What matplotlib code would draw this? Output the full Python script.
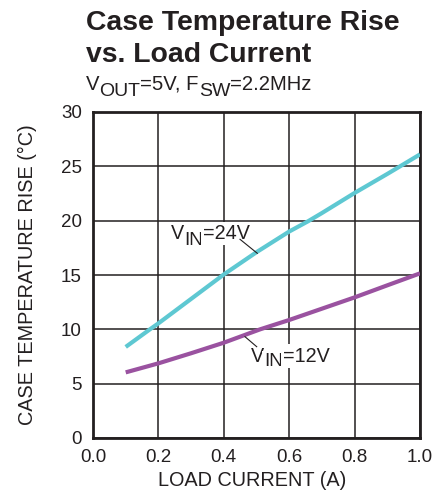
import matplotlib
matplotlib.use('Agg')
import matplotlib.pyplot as plt

# Load current (A) and case temperature rise (°C)
current_24v = [0.1, 0.174, 0.2, 0.3, 0.4, 0.5, 0.6, 0.658, 0.7, 0.8, 0.9, 0.939, 1.0]
rise_24v = [8.38, 10.0, 10.55, 12.8, 15.05, 17.1, 19.0, 19.95, 20.7, 22.55, 24.3, 25.0, 26.1]
current_12v = [0.1, 0.2, 0.3, 0.4, 0.511, 0.6, 0.7, 0.8, 0.9, 1.0]
rise_12v = [6.04, 6.87, 7.8, 8.77, 10.0, 10.86, 11.9, 12.94, 14.05, 15.15]

x_ticks = [0.0, 0.2, 0.4, 0.6, 0.8, 1.0]
y_ticks = [0, 5, 10, 15, 20, 25, 30]

INK = '#231f20'
plt.rcParams['font.family'] = ['Liberation Sans', 'DejaVu Sans']

W, H = 447, 500
fig = plt.figure(figsize=(W / 100, H / 100), dpi=100)
ax = fig.add_axes([93 / W, 1 - 438 / H, (420 - 93) / W, (438 - 112) / H])
renderer = fig.canvas.get_renderer()


def fx(px):
    return px / W


def fy(py):
    return 1 - py / H


def sub_text(x, y, parts, size, sub_size, drop, box=False):
    # parts: (string, is_subscript); x, y in pixels from top-left, y is the baseline
    for s, is_sub in parts:
        kw = dict(fontsize=sub_size if is_sub else size, color=INK,
                  va='baseline', ha='left', zorder=5)
        if box:
            kw['bbox'] = dict(facecolor='white', edgecolor='none', pad=1.5)
        t = fig.text(fx(x), fy(y + (drop if is_sub else 0)), s, **kw)
        bb = t.get_window_extent(renderer)
        x += bb.width


ax.plot(current_24v, rise_24v, color='#5ec8d2', lw=3, solid_capstyle='butt', zorder=3)
ax.plot(current_12v, rise_12v, color='#9a52a0', lw=3, solid_capstyle='butt', zorder=3)

ax.set_xlim(0, 1.0)
ax.set_ylim(0, 30)
ax.set_xticks(x_ticks)
ax.set_yticks(y_ticks)
ax.set_xticklabels([f'{v:.1f}' for v in x_ticks])
ax.tick_params(length=0, labelsize=13.5, colors=INK, pad=8)
ax.grid(True, color=INK, lw=1.1)
ax.set_axisbelow(True)
for s in ax.spines.values():
    s.set_linewidth(2)
    s.set_color(INK)

fig.text(fx(252), fy(486), 'LOAD CURRENT (A)', fontsize=14.3, color=INK,
         ha='center', va='baseline')
fig.text(fx(27), fy(275), 'CASE TEMPERATURE RISE (°C)', fontsize=14.3, color=INK,
         ha='center', va='center', rotation=90)

# curve labels with leader lines
sub_text(171, 239, [('V', False), ('IN', True), ('=24V', False)], 14.2, 13.7, 6, box=True)
fig.add_artist(plt.Line2D([fx(240), fx(257.3)], [fy(239.3), fy(253.3)], color=INK, lw=0.8, zorder=6))
sub_text(251, 361.5, [('V', False), ('IN', True), ('=12V', False)], 14.2, 13.7, 5, box=True)
fig.add_artist(plt.Line2D([fx(245), fx(256.7)], [fy(336.7), fy(346.7)], color=INK, lw=0.8, zorder=6))

# title and conditions
fig.text(fx(86), fy(30), 'Case Temperature Rise', fontsize=20.4, fontweight='bold',
         color=INK, va='baseline', ha='left')
fig.text(fx(86), fy(62), 'vs. Load Current', fontsize=20.4, fontweight='bold',
         color=INK, va='baseline', ha='left')
sub_text(86, 90, [('V', False), ('OUT', True), ('=5V, F', False), ('SW', True),
                  ('=2.2MHz', False)], 14.6, 14, 6)

fig.savefig('out.png', dpi=100)
